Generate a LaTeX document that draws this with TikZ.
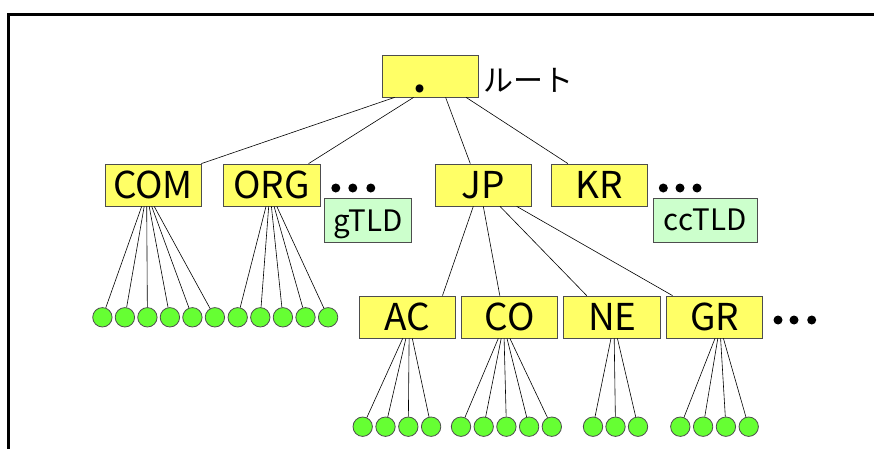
\documentclass[tikz,border=0pt]{standalone}
\usepackage{fontspec}
\setmainfont{Noto Sans CJK JP}
\definecolor{domyellow}{HTML}{FFFF66}
\definecolor{tldgreen}{HTML}{CCFFCC}
\definecolor{leafgreen}{HTML}{66FF33}
\definecolor{boxgray}{HTML}{4D4D4D}
\begin{document}
\begin{tikzpicture}[x=1pt,y=-1pt,
  dom/.style={draw=boxgray, fill=domyellow, line width=0.8pt,
    minimum width=96pt, minimum height=42pt, inner sep=0pt,
    text height=27pt, text depth=0pt,
    font=\fontsize{37}{37}\selectfont},
  tld/.style={draw=boxgray, fill=tldgreen, line width=0.8pt,
    minimum height=44pt, inner sep=0pt,
    text height=21pt, text depth=0pt,
    font=\fontsize{29.5}{29.5}\selectfont},
  leaf/.style={circle, draw=boxgray, fill=leafgreen, line width=0.8pt,
    minimum size=19.4pt, inner sep=0pt},
  link/.style={draw=black, line width=0.6pt},
  more/.style={circle, fill=black, minimum size=9pt, inner sep=0pt},
]
\useasboundingbox (0,0) rectangle (874,449);
% frame
\draw[line width=3pt] (874,14.5) -- (8.5,14.5) -- (8.5,449);

% root
\node[dom] (root) at (430,76) {\makebox[34pt][l]{\raisebox{-3.5pt}{\bfseries .}}};
\node[anchor=west, inner sep=0pt, font=\fontsize{30}{30}\selectfont] (rootlabel) at (483,80) {ルート};

% top-level domains
\node[dom] (com) at (153,185) {COM};
\node[dom, minimum width=97pt] (org) at (271.7,185) {ORG};
\node[dom] (jp) at (483,185) {JP};
\node[dom] (kr) at (599,185) {KR};
\node[tld, minimum width=87pt] (gtld) at (368,220.5) {gTLD};
\node[tld, minimum width=104pt] (cctld) at (705,220) {ccTLD};

% second-level domains under JP
\node[dom] (ac) at (407.5,317) {AC};
\node[dom] (co) at (509.8,317) {CO};
\node[dom, minimum width=97pt] (ne) at (612.3,317) {NE};
\node[dom] (gr) at (714.5,317) {GR};

% ellipsis marks
\foreach \i/\x in {1/335.8,2/352.8,3/370.8} \node[more] (ga\i) at (\x,188) {};
\foreach \i/\x in {1/663.3,2/680,3/697} \node[more] (ka\i) at (\x,188) {};
\foreach \i/\x in {1/778,2/794,3/811.7} \node[more] (ra\i) at (\x,320) {};

% root to top-level domains
\draw[link] ([xshift=13pt]root.south west) -- (com.north east);
\draw[link] ([xshift=32pt]root.south west) -- ([xshift=-12pt]org.north east);
\draw[link] ([xshift=64pt]root.south west) -- ([xshift=35.7pt]jp.north west);
\draw[link] ([xshift=-12.3pt]root.south east) -- ([xshift=17.3pt]kr.north west);

% JP to second-level domains
\draw[link] ([xshift=-9.7pt]jp.south) -- ([xshift=-13.4pt]ac.north east);
\draw[link] ([xshift=0.3pt]jp.south) -- ([xshift=-10pt]co.north);
\draw[link] ([xshift=17pt]jp.south) -- ([xshift=23.3pt]ne.north west);
\draw[link] ([xshift=33.7pt]jp.south) -- ([xshift=6.4pt]gr.north west);

% hosts under COM and ORG
\foreach \i [evaluate=\i as \x using 102.4+22.5*(\i-1),
             evaluate=\i as \o using -11.3+2.5*(\i-1)] in {1,...,6} {
  \node[leaf] (com\i) at (\x,317.3) {};
  \draw[link] ([xshift=\o pt]com.south) -- (com\i);
}
\foreach \i [evaluate=\i as \x using 237.7+22.6*(\i-1),
             evaluate=\i as \o using -5.7+2.7*(\i-1)] in {1,...,5} {
  \node[leaf] (org\i) at (\x,317.3) {};
  \draw[link] ([xshift=\o pt]org.south) -- (org\i);
}

% hosts under the JP second-level domains
\foreach \i [evaluate=\i as \x using 362.7+22.8*(\i-1),
             evaluate=\i as \o using -4.8+3.2*(\i-1)] in {1,...,4} {
  \node[leaf] (ac\i) at (\x,426.7) {};
  \draw[link] ([xshift=\o pt]ac.south) -- (ac\i);
}
\foreach \i [evaluate=\i as \x using 461+22.7*(\i-1),
             evaluate=\i as \o using -11.5+2.9*(\i-1)] in {1,...,5} {
  \node[leaf] (co\i) at (\x,426.7) {};
  \draw[link] ([xshift=\o pt]co.south) -- (co\i);
}
\foreach \i [evaluate=\i as \x using 593+22.5*(\i-1),
             evaluate=\i as \o using -1.3+3.2*(\i-1)] in {1,...,3} {
  \node[leaf] (ne\i) at (\x,426.7) {};
  \draw[link] ([xshift=\o pt]ne.south) -- (ne\i);
}
\foreach \i [evaluate=\i as \x using 680.3+22.8*(\i-1),
             evaluate=\i as \o using 0.5+2.8*(\i-1)] in {1,...,4} {
  \node[leaf] (gr\i) at (\x,426.7) {};
  \draw[link] ([xshift=\o pt]gr.south) -- (gr\i);
}
\end{tikzpicture}
\end{document}
